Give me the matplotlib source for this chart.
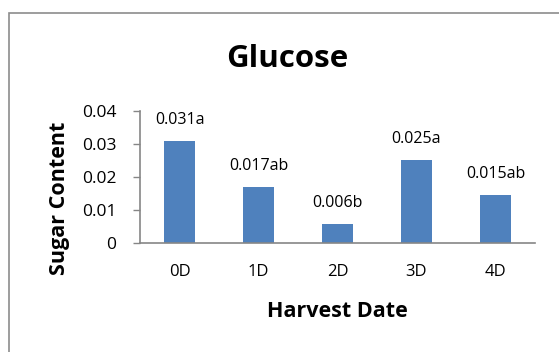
import matplotlib
matplotlib.use("Agg")
import matplotlib.pyplot as plt
from matplotlib.patches import Rectangle

categories = ["0D", "1D", "2D", "3D", "4D"]
values = [0.031, 0.017, 0.0057, 0.0253, 0.0146]
labels = ["0.031a", "0.017ab", "0.006b", "0.025a", "0.015ab"]
yticks = [0, 0.01, 0.02, 0.03, 0.04]
ytick_labels = ["0", "0.01", "0.02", "0.03", "0.04"]

plt.rcParams['font.family'] = ['Open Sans', 'DejaVu Sans']

W, H = 559, 352
fig = plt.figure(figsize=(W / 100, H / 100), dpi=100)
fig.patch.set_facecolor("white")

# outer chart border (cropped at right/bottom)
fig.patches.append(Rectangle((8.5 / W, -0.05), 1.2, 1 - 12.5 / H + 0.05,
                             transform=fig.transFigure, fill=False,
                             edgecolor="#8c8c8c", linewidth=1.2))

ax = fig.add_axes([140 / W, 1 - 243 / H, (535 - 140) / W, (243 - 111) / H])
x = list(range(len(categories)))
ax.bar(x, values, width=0.4, color="#4F81BD")
ax.set_xlim(-0.5, len(categories) - 0.5)
ax.set_ylim(0, 0.04)
ax.set_yticks(yticks)
ax.set_yticklabels(ytick_labels, fontsize=12.5)
ax.set_xticks(x)
ax.set_xticklabels(categories, fontsize=12)
ax.tick_params(axis="x", length=0, pad=15)
ax.tick_params(axis="y", length=5, width=1, color="#868686", pad=12)
for s in ["top", "right"]:
    ax.spines[s].set_visible(False)
for s in ["left", "bottom"]:
    ax.spines[s].set_color("#868686")
    ax.spines[s].set_linewidth(1.2)

for xi, v, lab in zip(x, values, labels):
    ax.annotate(lab, (xi, v), xytext=(0, 15), textcoords="offset points",
                ha="center", va="center", fontsize=11.5)

fig.text(287 / W, 1 - 67 / H, "Glucose", ha="center", va="baseline",
         fontsize=22.5, fontweight="bold")
fig.text(337.5 / W, 1 - 317 / H, "Harvest Date", ha="center", va="baseline",
         fontsize=15.5, fontweight="bold")
fig.text(60 / W, 1 - 198 / H, "Sugar Content", ha="center", va="center",
         fontsize=15.5, fontweight="bold", rotation=90)

fig.savefig("out.png", dpi=100)
